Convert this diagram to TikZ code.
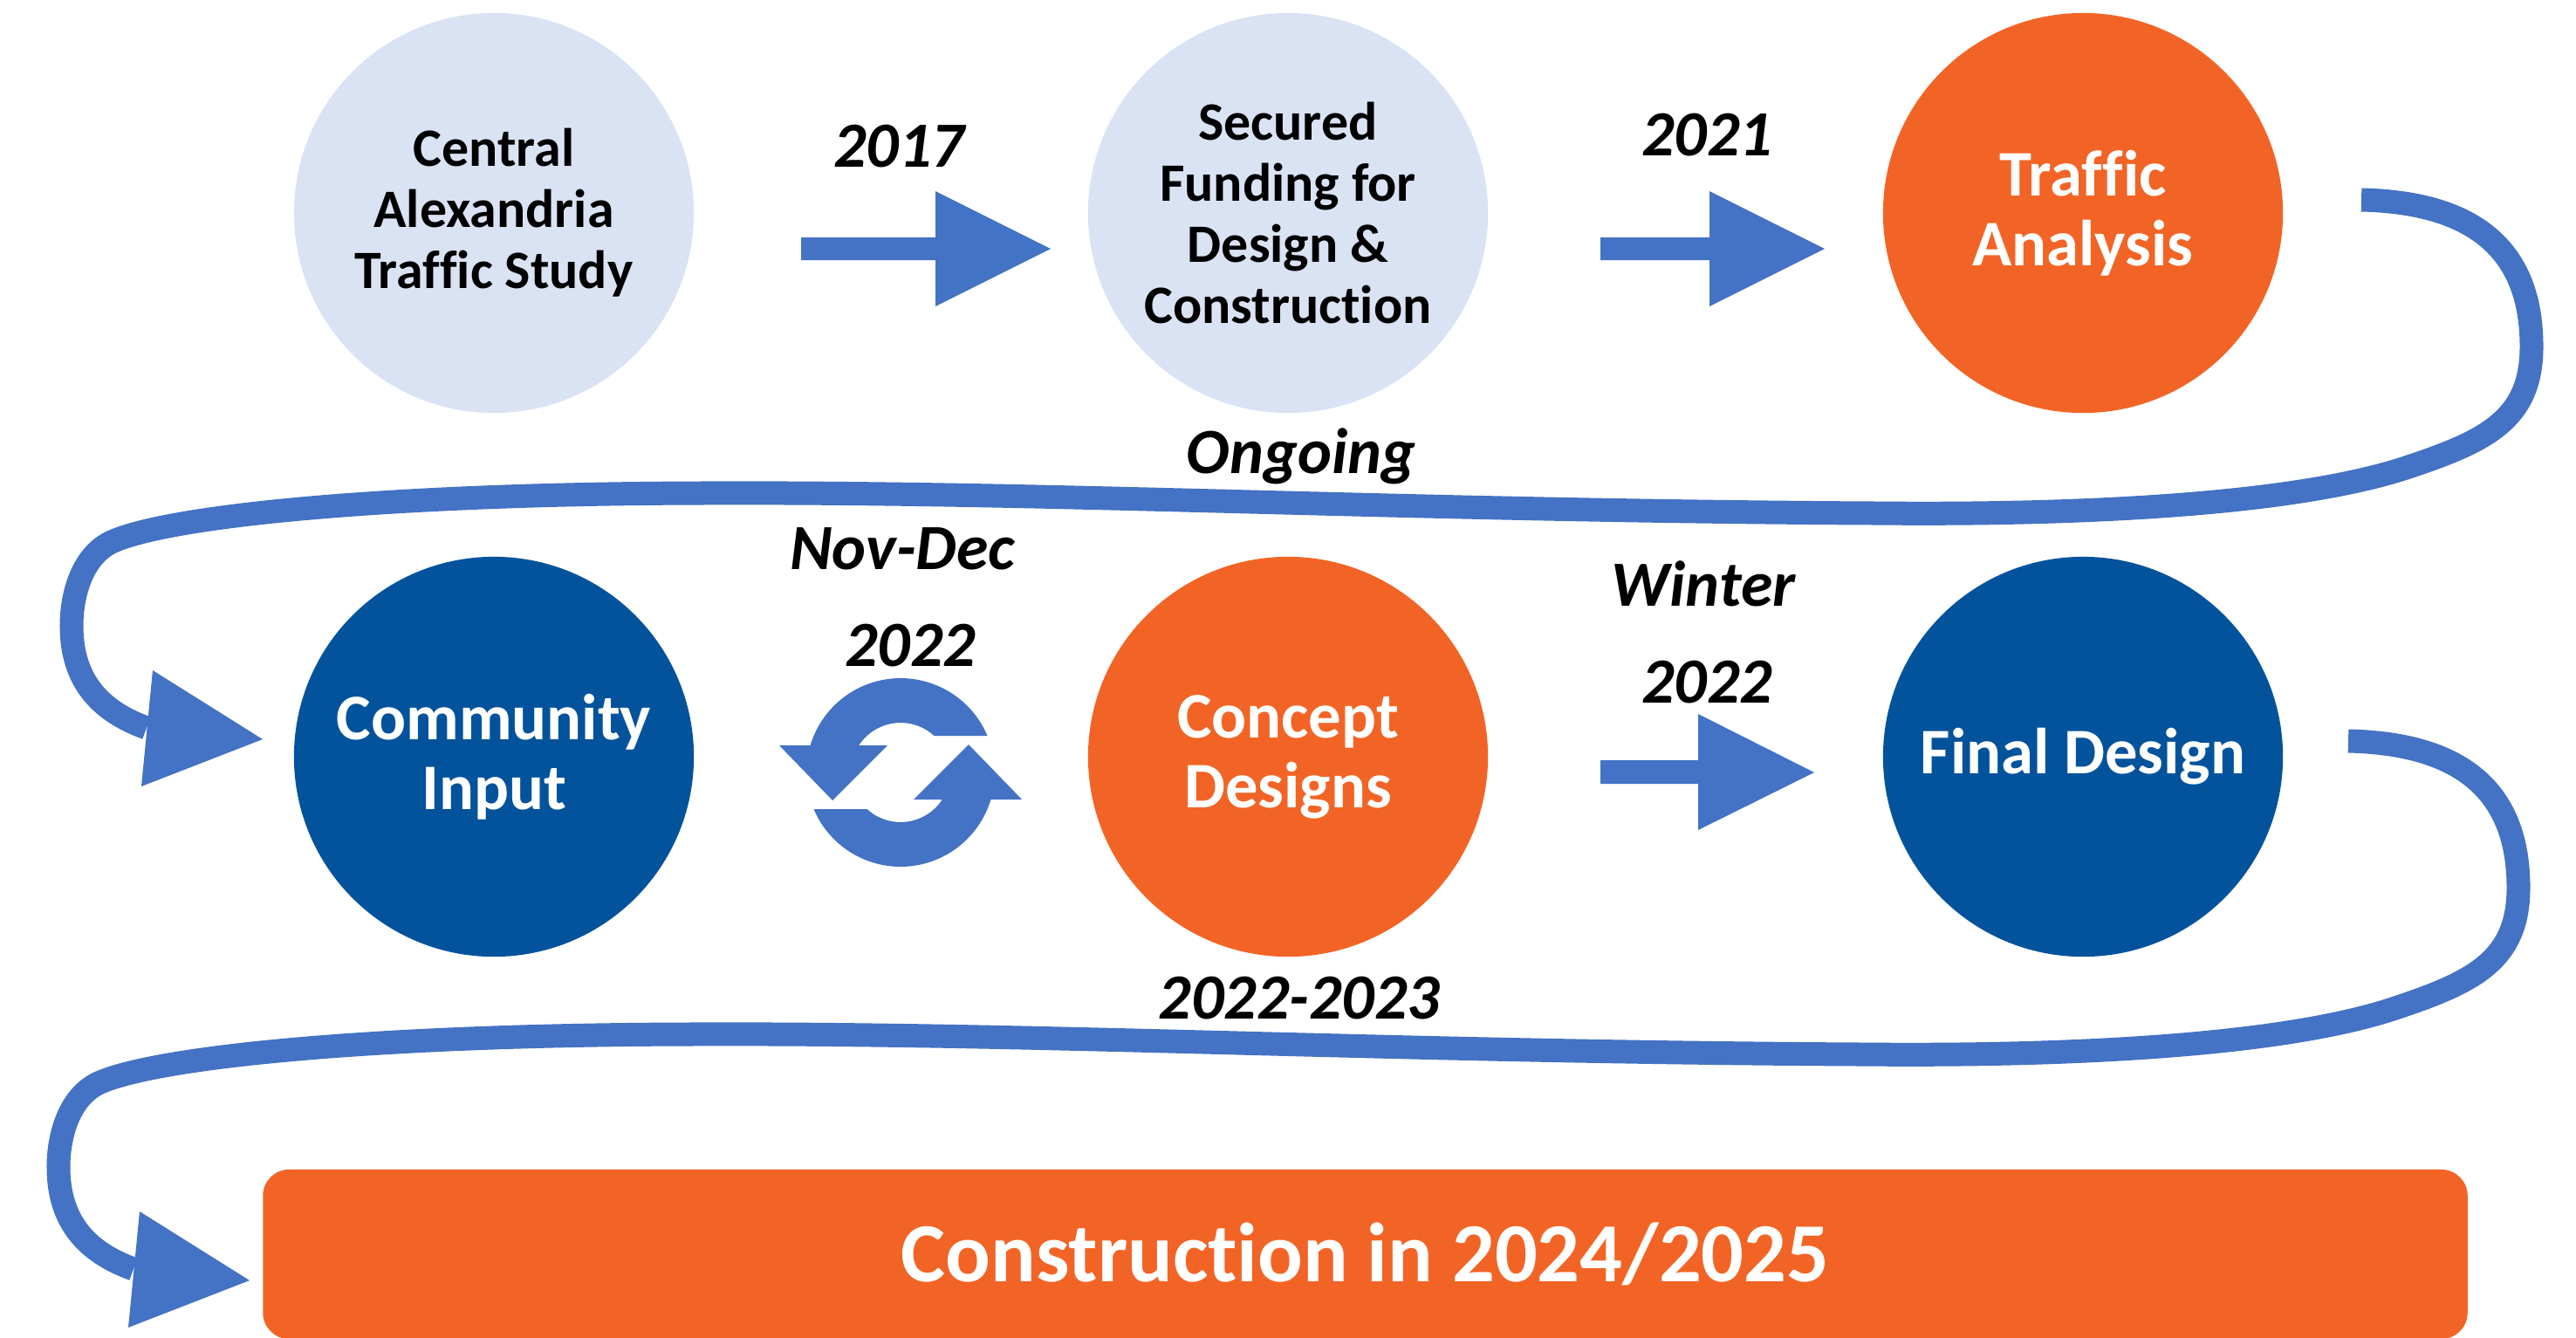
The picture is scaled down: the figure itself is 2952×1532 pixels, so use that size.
\documentclass[tikz,border=0pt]{standalone}
\usepackage{fontspec}
\setmainfont[Ligatures={NoCommon}]{Carlito}
\definecolor{lightc}{RGB}{218,227,243}
\definecolor{orangec}{RGB}{242,100,37}
\definecolor{darkc}{RGB}{2,83,156}
\definecolor{arrowc}{RGB}{68,114,196}
\begin{document}
\begin{tikzpicture}[x=0.01cm,y=-0.01cm,
  circ/.style={circle, inner sep=0pt, minimum size=4.58cm, align=center},
  lightcirc/.style={circ, fill=lightc, text=black, font=\fontsize{17.6}{19.9}\selectfont\bfseries},
  orangecirc/.style={circ, fill=orangec, text=white, font=\fontsize{21.2}{22.8}\selectfont\bfseries},
  bluecirc/.style={circ, fill=darkc, text=white, font=\fontsize{21.2}{22.8}\selectfont\bfseries},
  datelabel/.style={inner sep=0pt, text=black, font=\fontsize{21}{24}\selectfont\bfseries\itshape},
  blockarrow/.style={fill=arrowc},
  snakeline/.style={draw=arrowc, line width=0.27cm},
  bigbox/.style={fill=orangec, text=white, rounded corners=0.3cm, inner sep=0pt,
    minimum width=25.25cm, minimum height=1.94cm, font=\fontsize{27.4}{30}\selectfont\bfseries}
]
\useasboundingbox (0,0) rectangle (2952,1532);

% circles
\node[lightcirc] (cat) at (566,244) {Central\\Alexandria\\Traffic Study};
\node[lightcirc] (sf) at (1476,244) {Secured\\Funding for\\Design \&\\Construction};
\node[orangecirc] (ta) at (2387,244) {Traffic\\Analysis};
\node[bluecirc] (ci) at (566,867) {Community\\Input};
\node[orangecirc] (cd) at (1476,867) {Concept\\Designs};
\node[bluecirc] (fd) at (2387,867) {Final Design};

% construction box
\node[bigbox] (con) at (1564.5,1437) {Construction in 2024/2025};

% date labels
\node[datelabel] (l2017) at (1030,168) {2017};
\node[datelabel] (l2021) at (1956,155) {2021};
\node[datelabel] (lon) at (1491,523) {Ongoing};
\node[datelabel] (lnov) at (1034,629) {Nov-Dec};
\node[datelabel] (l2022a) at (1043,740) {2022};
\node[datelabel] (lwin) at (1952,669) {Winter};
\node[datelabel] (l2022b) at (1956,782) {2022};
\node[datelabel] (l2223) at (1489,1144) {2022-2023};

% block arrows
\fill[blockarrow] (918,272) -- (1072,272) -- (1072,219) -- (1204,285) -- (1072,351) -- (1072,298) -- (918,298) -- cycle;
\fill[blockarrow] (1834,272) -- (1959,272) -- (1959,219) -- (2091,285) -- (1959,351) -- (1959,298) -- (1834,298) -- cycle;
\fill[blockarrow] (1834,871) -- (1946,871) -- (1946,818) -- (2079,885) -- (1946,951) -- (1946,898) -- (1834,898) -- cycle;

% refresh icon
\begin{scope}[shift={(1032,885)}, yscale=-1]
  \foreach \r in {0,180}{
    \begin{scope}[rotate=\r]
      \fill[arrowc] (99.5,42) arc[start angle=22.9, end angle=163.3, radius=108]
        -- (-139,31) -- (-78,-32) -- (-15,31) -- (-47.8,31)
        arc[start angle=147, end angle=47.5, radius=57] -- cycle;
    \end{scope}
  }
\end{scope}

% snake connectors
\foreach \dx/\dy/\nm in {0/0/a,-15/620/b}{
  \begin{scope}[shift={(\dx,\dy)}]
    \coordinate (s\nm) at (2706,229);
    \coordinate (e\nm) at (168,834);
    \coordinate (t\nm) at (301,847);
    \draw[snakeline] (s\nm) .. controls (2840,232) and (2901,290) .. (2901,397)
      .. controls (2901,480) and (2850,505) .. (2760,535)
      .. controls (2620,582) and (2350,590) .. (2150,588)
      .. controls (1600,585) and (1200,563) .. (800,565)
      .. controls (450,566) and (200,590) .. (130,620)
      .. controls (95,635) and (82,680) .. (82,717)
      .. controls (82,780) and (115,815) .. (e\nm);
    \fill[arrowc] (175,768) -- (t\nm) -- (162,901) -- cycle;
  \end{scope}
}
\end{tikzpicture}
\end{document}
